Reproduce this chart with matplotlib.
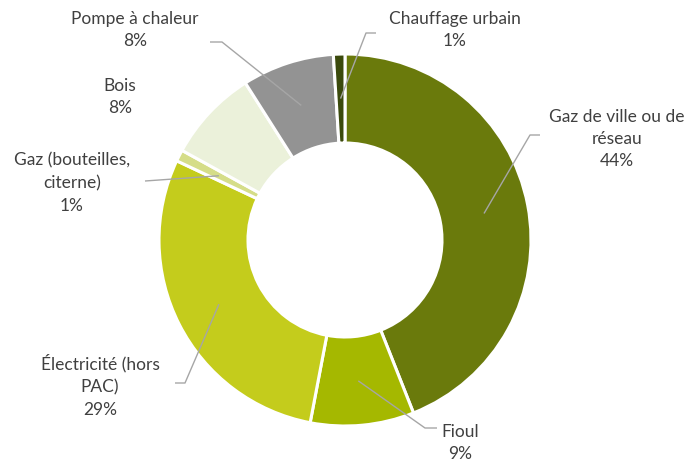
import numpy as np
import matplotlib
matplotlib.use("Agg")
import matplotlib.pyplot as plt

categories = ["Gaz de ville ou de\nréseau", "Fioul", "Électricité (hors\nPAC)",
              "Gaz (bouteilles,\nciterne)", "Bois", "Pompe à chaleur", "Chauffage urbain"]
values = [44, 9, 29, 1, 8, 8, 1]
colors = ["#6a7a0c", "#a5b800", "#c4cc1c", "#d5dd88", "#ebf1da", "#939393", "#3b4a0c"]

W, H = 691, 463
fig = plt.figure(figsize=(W / 100, H / 100), dpi=100)
ax = fig.add_axes([0, 0, 1, 1])

cx, cy = 345, H - 240
R, r_in = 186, 97
ax.pie(values, colors=colors, startangle=90, counterclock=False, center=(cx, cy),
       radius=R, wedgeprops=dict(width=R - r_in, edgecolor="white", linewidth=2.2),
       frame=True)
ax.set_xlim(0, W)
ax.set_ylim(0, H)
ax.set_aspect("equal")
ax.axis("off")

# label layout (pixel coordinates from top-left): text center, elbow, end of horizontal
label_pos = [(617, 139), (460, 443), (100, 386), (72, 183), (120, 97), (135, 30), (455, 30)]
elbows = [((530, 135), (540, 135)), ((425, 428), (437, 428)), ((185, 383), (175, 383)),
          (None, (145, 181)), (None, None), ((222, 42), (210, 42)), ((366, 33), (376, 33))]

total = sum(values)
cum = 0
rmid = (R + r_in) / 2
for cat, v, (tx, ty), (elb, end) in zip(categories, values, label_pos, elbows):
    mid = (cum + v / 2) / total * 2 * np.pi
    cum += v
    sx = cx + rmid * np.sin(mid)
    sy = cy + rmid * np.cos(mid)
    if end is not None:
        pts = [(sx, sy)]
        if elb is not None:
            pts.append((elb[0], H - elb[1]))
        pts.append((end[0], H - end[1]))
        xs, ys = zip(*pts)
        ax.plot(xs, ys, color="#a6a6a6", lw=1.0, solid_capstyle="butt")
    ax.text(tx, H - ty, f"{cat}\n{v}%", ha="center", va="center", fontsize=12.5,
            color="#404040", family=["Lato", "DejaVu Sans"], linespacing=1.5)

fig.savefig("out.png", dpi=100, facecolor="white")
